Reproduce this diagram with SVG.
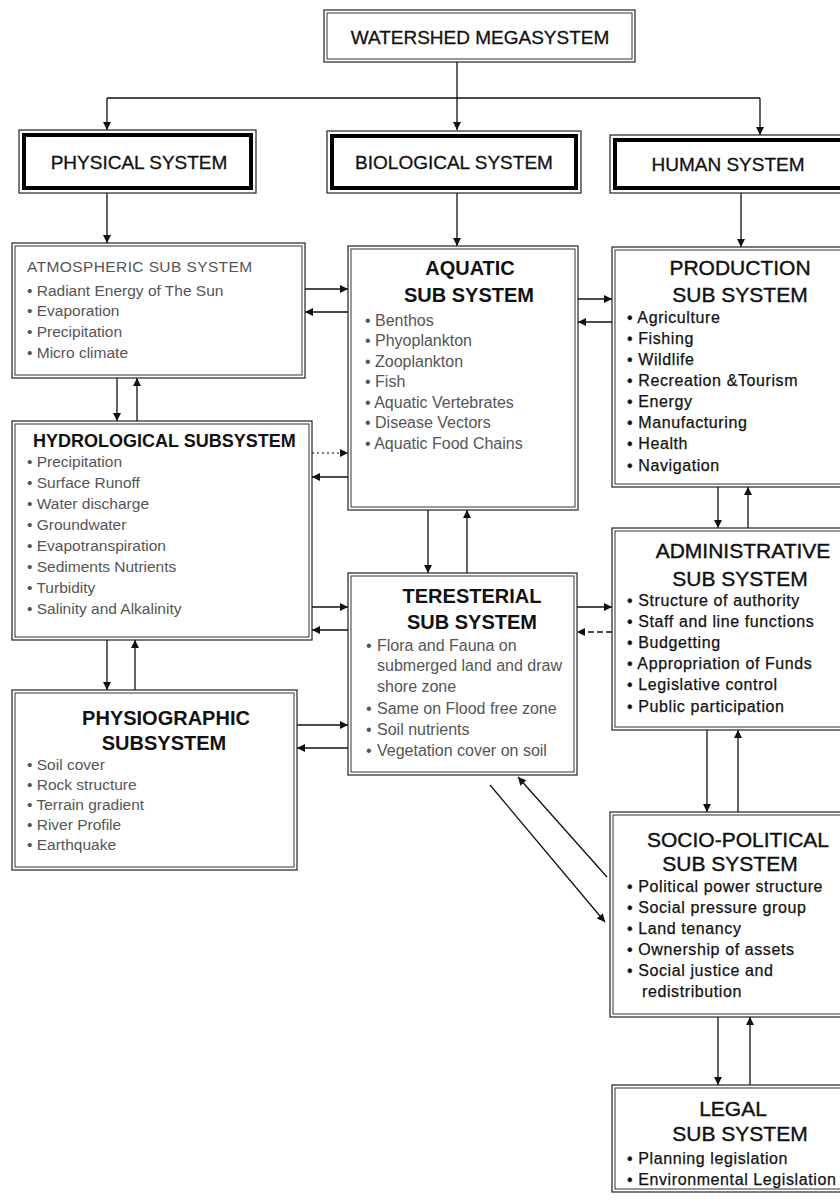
<svg xmlns="http://www.w3.org/2000/svg" width="840" height="1202" viewBox="0 0 840 1202">
<defs>
<marker id="a" viewBox="0 0 10 10" refX="10" refY="5" markerWidth="11" markerHeight="8" markerUnits="userSpaceOnUse" orient="auto"><path d="M0,0 L10,5 L0,10 z" fill="#111"/></marker>
<style>
.o{fill:#fff;stroke:#222;stroke-width:1.2}
.i{fill:none;stroke:#333;stroke-width:1}
.k{fill:none;stroke:#000;stroke-width:4}
text{font-family:'Liberation Sans',Arial,Helvetica,sans-serif}
.sys{font-size:19px;fill:#111;text-anchor:middle;stroke:#111;stroke-width:0.3}
.h{font-size:20px;font-weight:bold;fill:#111;text-anchor:middle}
.hr{font-size:21px;fill:#111;text-anchor:middle;stroke:#111;stroke-width:0.4}
.l{font-size:15.5px;fill:#555}
.m{font-size:16px;fill:#555}
.r{font-size:16px;fill:#111;letter-spacing:0.6px;stroke:#111;stroke-width:0.25}
.c{fill:none;stroke:#111;stroke-width:1.3}
.ar{marker-end:url(#a)}
.dot{stroke-dasharray:2 3;stroke:#555}
.dash{stroke-dasharray:6 3}
</style>
</defs>
<rect width="840" height="1202" fill="#fff"/>

<g id="connectors">
<path class="c ar" d="M457,62 V130"/>
<path class="c" d="M107,98 H760"/>
<path class="c ar" d="M107,98 V130"/>
<path class="c ar" d="M760,98 V135"/>
<path class="c ar" d="M107,193 V243"/>
<path class="c ar" d="M457,193 V246"/>
<path class="c ar" d="M741,193 V247"/>
<path class="c ar" d="M305,289 H348"/>
<path class="c ar" d="M348,312 H305"/>
<path class="c ar" d="M578,299 H612"/>
<path class="c ar" d="M612,322 H578"/>
<path class="c ar" d="M117,378 V421"/>
<path class="c ar" d="M137,421 V378"/>
<path class="c ar dot" d="M312,453 H348"/>
<path class="c ar" d="M348,477 H312"/>
<path class="c ar" d="M428,510 V573"/>
<path class="c ar" d="M467,573 V510"/>
<path class="c ar" d="M718,487 V528"/>
<path class="c ar" d="M748,528 V487"/>
<path class="c ar" d="M312,607 H348"/>
<path class="c ar" d="M348,630 H312"/>
<path class="c ar" d="M577,607 H612"/>
<path class="c ar dash" d="M612,632 H577"/>
<path class="c ar" d="M107,640 V690"/>
<path class="c ar" d="M135,690 V640"/>
<path class="c ar" d="M297,725 H348"/>
<path class="c ar" d="M348,748 H297"/>
<path class="c ar" d="M707,730 V812"/>
<path class="c ar" d="M738,812 V730"/>
<path class="c ar" d="M490,785 L605,922"/>
<path class="c ar" d="M607,877 L518,777"/>
<path class="c ar" d="M718,1017 V1085"/>
<path class="c ar" d="M750,1085 V1017"/>
</g>

<g id="watershed">
<rect class="o" x="324" y="10" width="311" height="52"/>
<rect class="i" x="327" y="13" width="305" height="46"/>
<text class="sys" x="480" y="44" font-size="20">WATERSHED MEGASYSTEM</text>
</g>

<g id="physical">
<rect class="o" x="19" y="130" width="237" height="63"/>
<rect class="k" x="24" y="135" width="227" height="53"/>
<text class="sys" x="139" y="169">PHYSICAL SYSTEM</text>
</g>

<g id="biological">
<rect class="o" x="327" y="131" width="254" height="62"/>
<rect class="k" x="332" y="136" width="244" height="52"/>
<text class="sys" x="454" y="169">BIOLOGICAL SYSTEM</text>
</g>

<g id="human">
<rect class="o" x="610" y="135" width="240" height="58"/>
<rect class="k" x="615" y="140" width="240" height="48"/>
<text class="sys" x="728" y="171">HUMAN SYSTEM</text>
</g>

<g id="atmospheric">
<rect class="o" x="12" y="243" width="293" height="135"/>
<rect class="i" x="15" y="246" width="287" height="129"/>
<text class="l" x="27" y="272" font-size="16.5" letter-spacing="0.4">ATMOSPHERIC SUB SYSTEM</text>
<text class="l" x="27" y="296" font-size="16">• Radiant Energy of The Sun</text>
<text class="l" x="27" y="316" font-size="16">• Evaporation</text>
<text class="l" x="27" y="337" font-size="16">• Precipitation</text>
<text class="l" x="27" y="358" font-size="16">• Micro climate</text>
</g>

<g id="hydrological">
<rect class="o" x="12" y="421" width="300" height="219"/>
<rect class="i" x="15" y="424" width="294" height="213"/>
<text x="33" y="447" font-size="18" font-weight="bold" fill="#111">HYDROLOGICAL SUBSYSTEM</text>
<text class="l" x="27" y="467">• Precipitation</text>
<text class="l" x="27" y="488">• Surface Runoff</text>
<text class="l" x="27" y="509">• Water discharge</text>
<text class="l" x="27" y="530">• Groundwater</text>
<text class="l" x="27" y="551">• Evapotranspiration</text>
<text class="l" x="27" y="572">• Sediments Nutrients</text>
<text class="l" x="27" y="593">• Turbidity</text>
<text class="l" x="27" y="614">• Salinity and Alkalinity</text>
</g>

<g id="physiographic">
<rect class="o" x="12" y="690" width="285" height="180"/>
<rect class="i" x="15" y="693" width="279" height="174"/>
<text class="h" x="166" y="725">PHYSIOGRAPHIC</text>
<text class="h" x="164" y="750">SUBSYSTEM</text>
<text class="l" x="27" y="770">• Soil cover</text>
<text class="l" x="27" y="790">• Rock structure</text>
<text class="l" x="27" y="810">• Terrain gradient</text>
<text class="l" x="27" y="830">• River Profile</text>
<text class="l" x="27" y="850">• Earthquake</text>
</g>

<g id="aquatic">
<rect class="o" x="348" y="246" width="230" height="264"/>
<rect class="i" x="351" y="249" width="224" height="258"/>
<text class="h" x="470" y="275">AQUATIC</text>
<text class="h" x="469" y="302">SUB SYSTEM</text>
<text class="m" x="365" y="326">• Benthos</text>
<text class="m" x="365" y="346">• Phyoplankton</text>
<text class="m" x="365" y="367">• Zooplankton</text>
<text class="m" x="365" y="387">• Fish</text>
<text class="m" x="365" y="408">• Aquatic Vertebrates</text>
<text class="m" x="365" y="428">• Disease Vectors</text>
<text class="m" x="365" y="449">• Aquatic Food Chains</text>
</g>

<g id="terresterial">
<rect class="o" x="348" y="573" width="229" height="202"/>
<rect class="i" x="351" y="576" width="223" height="196"/>
<text class="h" x="472" y="603">TERESTERIAL</text>
<text class="h" x="472" y="629">SUB SYSTEM</text>
<text class="m" x="366" y="651">•</text>
<text class="m" x="377" y="651">Flora and Fauna on</text>
<text class="m" x="377" y="671">submerged land and draw</text>
<text class="m" x="377" y="692">shore zone</text>
<text class="m" x="366" y="714">•</text>
<text class="m" x="377" y="714">Same on Flood free zone</text>
<text class="m" x="366" y="735">•</text>
<text class="m" x="377" y="735">Soil nutrients</text>
<text class="m" x="366" y="756">•</text>
<text class="m" x="377" y="756">Vegetation cover on soil</text>
</g>

<g id="production">
<rect class="o" x="612" y="247" width="240" height="240"/>
<rect class="i" x="615" y="250" width="240" height="234"/>
<text class="hr" x="740" y="275">PRODUCTION</text>
<text class="hr" x="740" y="302">SUB SYSTEM</text>
<text class="r" x="627" y="323">• Agriculture</text>
<text class="r" x="627" y="344">• Fishing</text>
<text class="r" x="627" y="365">• Wildlife</text>
<text class="r" x="627" y="386">• Recreation &amp;Tourism</text>
<text class="r" x="627" y="407">• Energy</text>
<text class="r" x="627" y="428">• Manufacturing</text>
<text class="r" x="627" y="449">• Health</text>
<text class="r" x="627" y="471">• Navigation</text>
</g>

<g id="administrative">
<rect class="o" x="612" y="528" width="240" height="202"/>
<rect class="i" x="615" y="531" width="240" height="196"/>
<text class="hr" x="743" y="558">ADMINISTRATIVE</text>
<text class="hr" x="740" y="586">SUB SYSTEM</text>
<text class="r" x="627" y="606">• Structure of authority</text>
<text class="r" x="627" y="627">• Staff and line functions</text>
<text class="r" x="627" y="648">• Budgetting</text>
<text class="r" x="627" y="669">• Appropriation of Funds</text>
<text class="r" x="627" y="690">• Legislative control</text>
<text class="r" x="627" y="712">• Public participation</text>
</g>

<g id="sociopolitical">
<rect class="o" x="610" y="812" width="242" height="205"/>
<rect class="i" x="613" y="815" width="242" height="199"/>
<text class="hr" x="738" y="847">SOCIO-POLITICAL</text>
<text class="hr" x="730" y="871">SUB SYSTEM</text>
<text class="r" x="627" y="892">• Political power structure</text>
<text class="r" x="627" y="913">• Social pressure group</text>
<text class="r" x="627" y="934">• Land tenancy</text>
<text class="r" x="627" y="955">• Ownership of assets</text>
<text class="r" x="627" y="976">• Social justice and</text>
<text class="r" x="642" y="997">redistribution</text>
</g>

<g id="legal">
<rect class="o" x="612" y="1085" width="240" height="107"/>
<rect class="i" x="615" y="1088" width="240" height="101"/>
<text class="hr" x="733" y="1116">LEGAL</text>
<text class="hr" x="740" y="1141">SUB SYSTEM</text>
<text class="r" x="627" y="1164">• Planning legislation</text>
<text class="r" x="627" y="1185">• Environmental Legislation</text>
</g>
</svg>
